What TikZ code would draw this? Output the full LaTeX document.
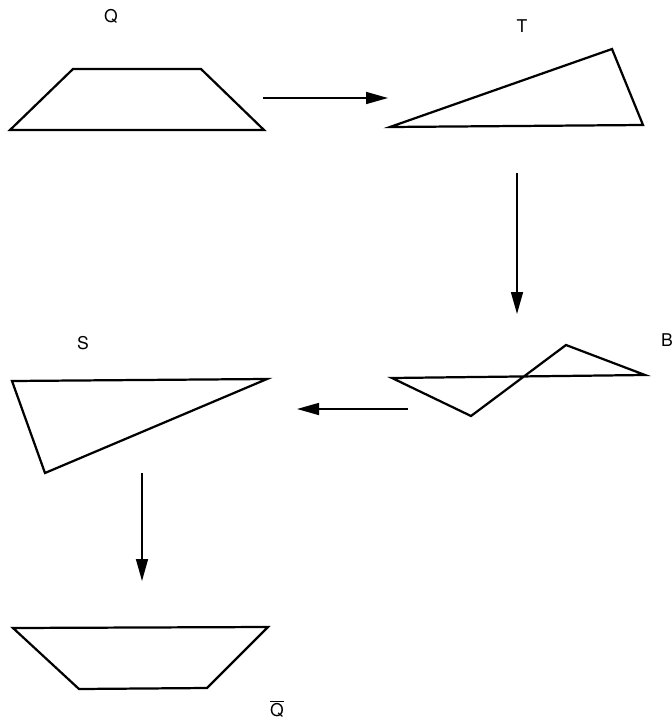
\documentclass[tikz,border=0pt]{standalone}
\usepackage{fontspec}
\setmainfont{TeX Gyre Heros}
\usetikzlibrary{arrows.meta}

\begin{document}
\begin{tikzpicture}[x=0.3mm, y=-0.3mm, line join=miter,
    shape line/.style={line width=1.9pt, black},
    map arrow/.style={line width=1.3pt, -{Triangle[length=6.6mm, width=3.6mm]}},
    fig label/.style={font=\fontsize{15}{18}\selectfont, inner sep=0pt}]
  \useasboundingbox (0,0) rectangle (672,722);

  % ========================================================
  % 0. VERTICES OF THE FIVE SHAPES
  % ========================================================
  % Q (top left trapezoid)
  \coordinate (Q1) at (10,130);
  \coordinate (Q2) at (73,69);
  \coordinate (Q3) at (201,69);
  \coordinate (Q4) at (264,130);

  % T (top right triangle)
  \coordinate (T1) at (390,127);
  \coordinate (T2) at (612,49);
  \coordinate (T3) at (643,125);

  % B (crossed quadrilateral)
  \coordinate (B1) at (392,378);
  \coordinate (B2) at (471,416);
  \coordinate (B3) at (566,345);
  \coordinate (B4) at (645,375);

  % S (left triangle)
  \coordinate (S1) at (12,381);
  \coordinate (S2) at (267,379);
  \coordinate (S3) at (45,473);

  % Q-bar (bottom trapezoid)
  \coordinate (R1) at (13,628);
  \coordinate (R2) at (268,627);
  \coordinate (R3) at (207,688);
  \coordinate (R4) at (79,689);

  % ========================================================
  % 1. DRAW THE SHAPES
  % ========================================================
  \draw[shape line] (Q1)--(Q2)--(Q3)--(Q4)--cycle;
  \draw[shape line] (T1)--(T2)--(T3)--cycle;
  \draw[shape line] (B1)--(B2)--(B3)--(B4)--cycle;
  \draw[shape line] (S1)--(S2)--(S3)--cycle;
  \draw[shape line] (R1)--(R2)--(R3)--(R4)--cycle;

  % ========================================================
  % 2. LABELS
  % ========================================================
  \node[fig label] (labQ) at (111,16) {Q};
  \node[fig label] (labT) at (522,26) {T};
  \node[fig label] (labB) at (667,340) {B};
  \node[fig label] (labS) at (83,343) {S};
  \node[fig label] (labR) at (277,709) {$\overline{\mbox{Q}}$};

  % ========================================================
  % 3. ARROWS BETWEEN THE STEPS
  % ========================================================
  \coordinate (aQ) at (263,98);
  \coordinate (aT) at (388,98);
  \coordinate (bT) at (517,173);
  \coordinate (bB) at (517,314);
  \coordinate (cB) at (408,409);
  \coordinate (cS) at (297,409);
  \coordinate (dS) at (142,473);
  \coordinate (dR) at (142,581);

  \draw[map arrow] (aQ) -- (aT);
  \draw[map arrow] (bT) -- (bB);
  \draw[map arrow] (cB) -- (cS);
  \draw[map arrow] (dS) -- (dR);

\end{tikzpicture}
\end{document}
